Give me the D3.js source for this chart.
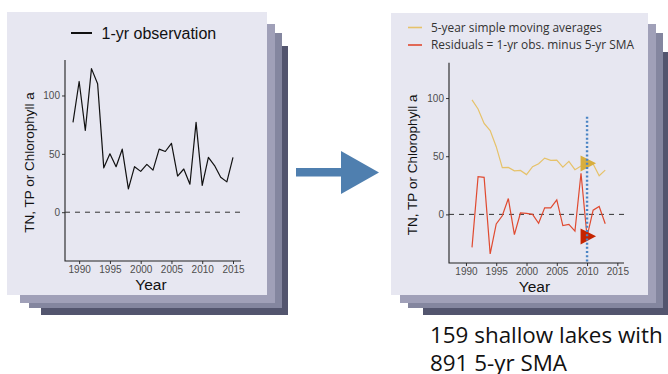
<!DOCTYPE html>
<html>
<head>
<meta charset="utf-8">
<script src="https://cdn.jsdelivr.net/npm/d3@7"></script>
<style>
  html, body { margin: 0; padding: 0; background: #ffffff; }
  svg { display: block; }
</style>
</head>
<body>
<svg id="chart" width="668" height="374"></svg>
<script>
// Annual series for one lake (1-yr observations)
const obsYears = [1989, 1990, 1991, 1992, 1993, 1994, 1995, 1996, 1997, 1998, 1999, 2000, 2001, 2002,
                  2003, 2004, 2005, 2006, 2007, 2008, 2009, 2010, 2011, 2012, 2013, 2014, 2015];
const obsValues = [77, 112, 70, 123, 110, 38, 50, 39, 54, 20, 39, 35, 41, 36,
                   54, 52, 59, 31, 37, 24, 77, 23, 47, 40, 30, 26, 47];

// Centred 5-year simple moving averages and residuals
const smaYears = [1991, 1992, 1993, 1994, 1995, 1996, 1997, 1998, 1999, 2000, 2001, 2002,
                  2003, 2004, 2005, 2006, 2007, 2008, 2009, 2010, 2011, 2012, 2013];
const smaValues = [98.4, 90.6, 78.2, 72.0, 58.2, 40.2, 40.4, 37.4, 37.8, 34.2, 41.0, 43.6,
                   48.4, 46.4, 46.6, 40.6, 45.6, 38.4, 41.6, 42.2, 43.4, 33.2, 38.0];
const residualValues = [-28.4, 32.4, 31.8, -34.0, -8.2, -1.2, 13.6, -17.4, 1.2, 0.8, 0.0, -7.6,
                        5.6, 5.6, 12.4, -9.6, -8.6, -14.4, 35.4, -19.2, 3.6, 6.8, -8.0];

// Highlighted year and the top of its marker line
const highlightYear = 2010;
const highlightTop = 84;

// Axis ticks and text
const xTicks = [1990, 1995, 2000, 2005, 2010, 2015];
const yTicks = [0, 50, 100];
const yDomain = [-41.8, 130.4];
const xTitle = "Year";
const yTitle = "TN, TP or Chlorophyll a";
const leftLegend = ["1-yr observation"];
const rightLegend = ["5-year simple moving averages", "Residuals = 1-yr obs. minus 5-yr SMA"];
const caption = ["159 shallow lakes with", "891 5-yr SMA"];

const svg = d3.select("#chart");

// Stacked card backgrounds: back layers first, then the front card
function card(g, front, layers) {
  const fills = ["#a0a0b8", "#84869f", "#53556e"];
  for (let i = layers.length - 1; i >= 0; i--) {
    const [x0, y0, x1, y1] = layers[i];
    g.append("rect").attr("x", x0).attr("y", y0).attr("width", x1 - x0).attr("height", y1 - y0)
      .attr("fill", fills[i]);
  }
  const [x0, y0, x1, y1] = front;
  g.append("rect").attr("x", x0).attr("y", y0).attr("width", x1 - x0).attr("height", y1 - y0)
    .attr("fill", "#e7e7f1");
}

card(svg.append("g"), [7, 12, 267, 295], [[20, 24, 275, 303], [29, 33, 282, 308], [41, 46, 288, 315]]);
card(svg.append("g"), [391, 13, 648, 295], [[400, 24, 656, 303], [408, 33, 663, 308], [423, 52, 668, 315]]);

// Shared axis drawing
function drawAxes(g, x, y, yTitleX) {
  const [xl, xr] = x.range();
  const [yb, yt] = y.range();
  const ax = g.append("g").attr("transform", `translate(0,${yb})`)
    .call(d3.axisBottom(x).tickValues(xTicks).tickFormat(d3.format("d")).tickSize(3).tickPadding(2));
  const ay = g.append("g").attr("transform", `translate(${xl},0)`)
    .call(d3.axisLeft(y).tickValues(yTicks).tickSize(3).tickPadding(2));
  [ax, ay].forEach(a => {
    a.select(".domain").remove();
    a.selectAll(".tick line").attr("stroke", "#333").attr("stroke-width", 1);
    a.selectAll(".tick text").attr("fill", "#4d4d4d")
      .style("font-family", "'Liberation Sans', Arial, sans-serif").style("font-size", "10px");
  });
  // axis lines (L-shaped frame)
  g.append("path").attr("d", `M${xl},${yt}V${yb}H${xr}`)
    .attr("fill", "none").attr("stroke", "#222").attr("stroke-width", 1.1);
  // zero reference line
  g.append("line").attr("x1", xl).attr("x2", xr).attr("y1", y(0)).attr("y2", y(0))
    .attr("stroke", "#333").attr("stroke-width", 1).attr("stroke-dasharray", "5,5");
  g.append("text").attr("x", (xl + xr) / 2 - 2).attr("y", yb + 29)
    .attr("text-anchor", "middle").attr("fill", "#111")
    .style("font-family", "'Liberation Sans', Arial, sans-serif").style("font-size", "15.5px")
    .text(xTitle);
  g.append("text").attr("transform", `translate(${yTitleX},${(yt + yb) / 2 + 2}) rotate(-90)`)
    .attr("text-anchor", "middle").attr("fill", "#111")
    .style("font-family", "'Liberation Sans', Arial, sans-serif").style("font-size", "13.5px")
    .text(yTitle);
}

// ---- Left chart: 1-yr observations ----
const gl = svg.append("g");
const xL = d3.scaleLinear().domain([1987.7, 2016.3]).range([65, 241]);
const yL = d3.scaleLinear().domain(yDomain).range([261, 60]);
drawAxes(gl, xL, yL, 34);

gl.append("path").datum(obsYears.map((yr, i) => [yr, obsValues[i]]))
  .attr("fill", "none").attr("stroke", "#111").attr("stroke-width", 1.2).attr("stroke-linejoin", "round")
  .attr("d", d3.line().x(d => xL(d[0])).y(d => yL(d[1])));

// legend
gl.append("line").attr("x1", 71).attr("x2", 92).attr("y1", 33).attr("y2", 33)
  .attr("stroke", "#111").attr("stroke-width", 2);
gl.append("text").attr("x", 101.5).attr("y", 39).attr("fill", "#111")
  .style("font-family", "'Liberation Sans', Arial, sans-serif").style("font-size", "16px")
  .text(leftLegend[0]);

// ---- Arrow between the two cards ----
svg.append("path")
  .attr("d", "M296,168H341V151L379,172.5L341,194V176.5H296Z")
  .attr("fill", "#4f7faf");

// ---- Right chart: moving averages and residuals ----
const gr = svg.append("g");
const xR = d3.scaleLinear().domain([1987.2, 2016.1]).range([449, 624]);
const yR = d3.scaleLinear().domain(yDomain).range([263, 62.7]);
drawAxes(gr, xR, yR, 417);

const smaColor = "#e6c26a", resColor = "#e04a30";
const lineR = d3.line().x(d => xR(d[0])).y(d => yR(d[1]));
gr.append("path").datum(smaYears.map((yr, i) => [yr, smaValues[i]]))
  .attr("fill", "none").attr("stroke", smaColor).attr("stroke-width", 1.2).attr("d", lineR);
gr.append("path").datum(smaYears.map((yr, i) => [yr, residualValues[i]]))
  .attr("fill", "none").attr("stroke", resColor).attr("stroke-width", 1.2).attr("d", lineR);

// triangle markers on the highlighted year
const hi = smaYears.indexOf(highlightYear);
function pointer(cx, cy, fill) {
  gr.append("path")
    .attr("d", `M${cx - 6.5},${cy - 8.2}L${cx + 9},${cy - 0.5}L${cx - 6.5},${cy + 7.8}Z`)
    .attr("fill", fill);
}
pointer(xR(highlightYear), yR(smaValues[hi]) - 1.5, "#d8ae3e");
pointer(xR(highlightYear), yR(residualValues[hi]), "#c52400");

// dotted marker line
gr.append("line")
  .attr("x1", xR(highlightYear)).attr("x2", xR(highlightYear))
  .attr("y1", yR(highlightTop)).attr("y2", yR.range()[0])
  .attr("stroke", "#4a84c4").attr("stroke-width", 2.4).attr("stroke-dasharray", "2,2.2");

// legend
const legendColors = [smaColor, resColor];
rightLegend.forEach((t, i) => {
  const y0 = 27.5 + i * 17.5;
  gr.append("line").attr("x1", 408).attr("x2", 422).attr("y1", y0).attr("y2", y0)
    .attr("stroke", legendColors[i]).attr("stroke-width", 1.6);
  gr.append("text").attr("x", 431).attr("y", y0 + 4.4).attr("fill", "#333")
    .style("font-family", "'Open Sans', sans-serif").style("font-size", "11.9px")
    .text(t);
});

// ---- Caption ----
caption.forEach((t, i) => {
  svg.append("text").attr("x", 430).attr("y", 343 + i * 28.2).attr("fill", "#111")
    .style("font-family", "'Open Sans', sans-serif").style("font-size", "22.4px")
    .text(t);
});
</script>
</body>
</html>
